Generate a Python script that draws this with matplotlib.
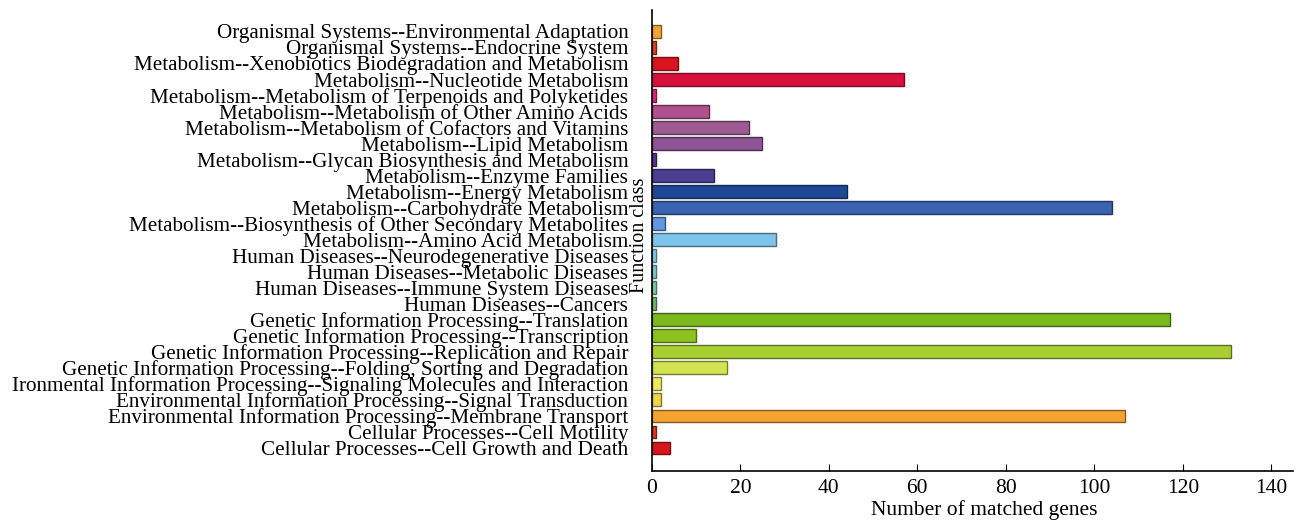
import numpy as np
import matplotlib
matplotlib.use("Agg")
import matplotlib.pyplot as plt
from matplotlib.colors import to_rgb

# categories listed top to bottom as in the chart
categories = [
    "Organismal Systems--Environmental Adaptation",
    "Organismal Systems--Endocrine System",
    "Metabolism--Xenobiotics Biodegradation and Metabolism",
    "Metabolism--Nucleotide Metabolism",
    "Metabolism--Metabolism of Terpenoids and Polyketides",
    "Metabolism--Metabolism of Other Amino Acids",
    "Metabolism--Metabolism of Cofactors and Vitamins",
    "Metabolism--Lipid Metabolism",
    "Metabolism--Glycan Biosynthesis and Metabolism",
    "Metabolism--Enzyme Families",
    "Metabolism--Energy Metabolism",
    "Metabolism--Carbohydrate Metabolism",
    "Metabolism--Biosynthesis of Other Secondary Metabolites",
    "Metabolism--Amino Acid Metabolism",
    "Human Diseases--Neurodegenerative Diseases",
    "Human Diseases--Metabolic Diseases",
    "Human Diseases--Immune System Diseases",
    "Human Diseases--Cancers",
    "Genetic Information Processing--Translation",
    "Genetic Information Processing--Transcription",
    "Genetic Information Processing--Replication and Repair",
    "Genetic Information Processing--Folding, Sorting and Degradation",
    "Ironmental Information Processing--Signaling Molecules and Interaction",
    "Environmental Information Processing--Signal Transduction",
    "Environmental Information Processing--Membrane Transport",
    "Cellular Processes--Cell Motility",
    "Cellular Processes--Cell Growth and Death",
]

counts = [2, 1, 6, 57, 1, 13, 22, 25, 1, 14, 44, 104, 3, 28,
          1, 1, 1, 1, 117, 10, 131, 17, 2, 2, 107, 1, 4]

colors = [
    "#F4A536", "#E0401A", "#D8141E", "#D6123C", "#E0248A", "#B0508E",
    "#A05C92", "#8E5496", "#5E3690", "#4A3E90", "#1E4896", "#3A62B0",
    "#6496DC", "#7EC4EA", "#80CCE8", "#7ECAD0", "#80C8A8", "#70B870",
    "#7AB81E", "#8CC21E", "#A8CE32", "#D2E250", "#EEE860", "#EED848",
    "#F4A232", "#E03A1E", "#D8141C",
]

plt.rcParams['font.family'] = ['Liberation Serif', 'DejaVu Serif']

fig = plt.figure(figsize=(12.96, 5.23), dpi=100)
ax = fig.add_axes([0.503, 0.0994, 0.495, 0.8815])

n = len(categories)
ypos = np.arange(n)[::-1]
edges = [tuple(c * 0.55 for c in to_rgb(col)) for col in colors]
ax.barh(ypos, counts, height=0.8, color=colors, edgecolor=edges, linewidth=1)

ax.set_yticks(ypos)
ax.set_yticklabels(categories, fontsize=15.2)
ax.tick_params(axis='y', length=0, pad=17)
ax.tick_params(axis='x', direction='in', length=5, labelsize=15.5, pad=6)

ax.set_xlim(0, 145)
ax.set_xticks(np.arange(0, 141, 20))
ax.set_ylim(-1.44, n - 1 + 1.34)

for s in ['top', 'right']:
    ax.spines[s].set_visible(False)
ax.spines['left'].set_linewidth(1.2)
ax.spines['bottom'].set_linewidth(1.2)

ax.set_xlabel("Number of matched genes", fontsize=15.5)
ax.xaxis.set_label_coords(0.518, -0.064)
ax.set_ylabel("Function class", fontsize=14.5)
ax.yaxis.set_label_coords(-0.005, 0.512)

fig.savefig("out.png", dpi=100)
